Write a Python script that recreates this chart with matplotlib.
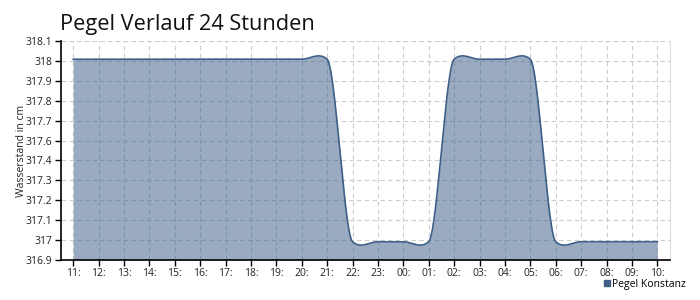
import numpy as np
import matplotlib
matplotlib.use("Agg")
import matplotlib.pyplot as plt
from matplotlib.lines import Line2D

plt.rcParams['font.family'] = ['Open Sans', 'DejaVu Sans']

# ---- data ----
hours = ["11:", "12:", "13:", "14:", "15:", "16:", "17:", "18:", "19:", "20:",
         "21:", "22:", "23:", "00:", "01:", "02:", "03:", "04:", "05:", "06:",
         "07:", "08:", "09:", "10:"]
pegel = [318.0, 318.0, 318.0, 318.0, 318.0, 318.0, 318.0, 318.0, 318.0, 318.0,
         318.0, 317.0, 317.0, 317.0, 317.0, 318.0, 318.0, 318.0, 318.0, 317.0,
         317.0, 317.0, 317.0, 317.0]
series_name = "Pegel Konstanz"
title = "Pegel Verlauf 24 Stunden"
ylabel = "Wasserstand in cm"
y_min, y_max = 316.9, 318.1

line_color = "#3d5f88"
fill_color = "#3d5f88"


def cardinal_spline(y, k=0.25, n=30):
    y = np.asarray(y, dtype=float)
    x = np.arange(len(y), dtype=float)
    m = np.zeros_like(y)
    m[1:-1] = k * (y[2:] - y[:-2]) / 2.0
    xs, ys = [], []
    for i in range(len(y) - 1):
        t = np.linspace(0, 1, n, endpoint=(i == len(y) - 2))
        h00 = 2 * t**3 - 3 * t**2 + 1
        h10 = t**3 - 2 * t**2 + t
        h01 = -2 * t**3 + 3 * t**2
        h11 = t**3 - t**2
        xs.append(x[i] + t)
        ys.append(h00 * y[i] + h10 * m[i] + h01 * y[i + 1] + h11 * m[i + 1])
    return np.concatenate(xs), np.concatenate(ys)


xs, ys = cardinal_spline(pegel)

fig = plt.figure(figsize=(7, 3), dpi=100)
ax = fig.add_axes([60.5 / 700, 1 - 260 / 300, (670 - 60.5) / 700, (260 - 41) / 300])

ax.fill_between(xs, ys, y_min, color=fill_color, alpha=0.52, linewidth=0, zorder=2)
ax.plot(xs, ys, color=line_color, linewidth=1.2, zorder=3)

ax.set_xlim(-0.5, len(hours) - 0.5)
ax.set_ylim(y_min, y_max)

ax.set_xticks(np.arange(len(hours)))
ax.set_xticklabels(hours)
yt = np.linspace(y_min, y_max, 12)
ax.set_yticks(yt)
ax.set_yticklabels([("%.1f" % v).rstrip("0").rstrip(".") for v in yt])

ax.grid(True, color="#cccccc", linestyle=(0, (4, 3)), linewidth=0.8, zorder=0)
ax.set_axisbelow(True)

ax.spines["top"].set_visible(False)
ax.spines["right"].set_color("#dddddd")
ax.spines["right"].set_linewidth(0.8)
ax.spines["left"].set_linewidth(1.2)
ax.spines["bottom"].set_linewidth(1.2)

ax.tick_params(axis="both", labelsize=7.5, length=4, width=1, color="black", pad=2, labelcolor="#222222")

ax.set_ylabel(ylabel, fontsize=7.5, color="#222222", va="center")
ax.yaxis.set_label_coords((22 - 60.5) / 609.5, 0.5)

fig.text(60 / 700, 1 - 30 / 300, title, fontsize=15.7, color="#111111", ha="left", va="baseline")

handle = Line2D([], [], marker="s", color=line_color, linestyle="none", markersize=5)
fig.legend([handle], [series_name], loc="lower right", bbox_to_anchor=(0.99, 0.01),
           frameon=False, fontsize=7.5, handletextpad=0.1, handlelength=0.8, borderaxespad=0.3)

fig.savefig("out.png", dpi=100)
